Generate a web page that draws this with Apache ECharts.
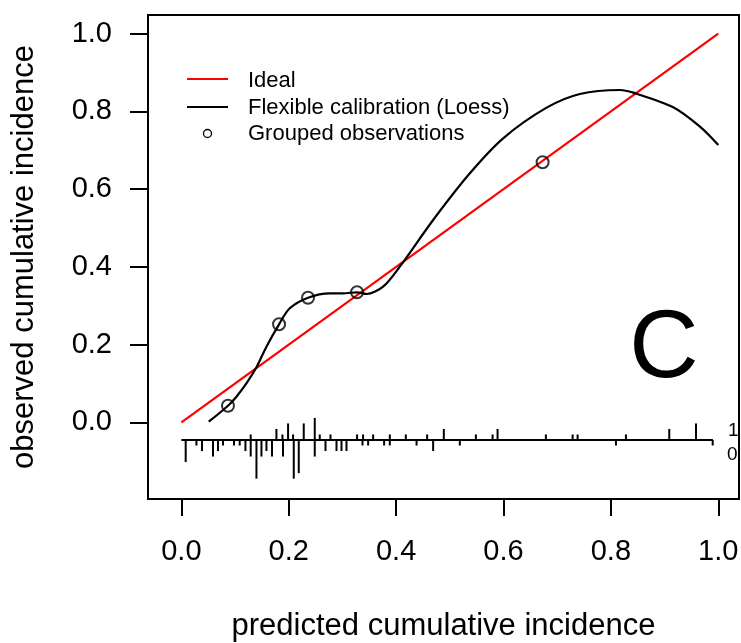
<!DOCTYPE html>
<html>
<head>
<meta charset="utf-8">
<script src="https://cdn.jsdelivr.net/npm/echarts@6/dist/echarts.min.js"></script>
<style>html,body{margin:0;padding:0;background:#fff}#c{width:741px;height:643px}</style>
</head>
<body>
<div id="c"></div>
<script>
// ---- data ----
var tickValues = [0, 0.2, 0.4, 0.6, 0.8, 1.0];
var idealX = [0, 1];
var idealY = [0, 1];
var loessX = [0.0509, 0.0868, 0.1025, 0.1211, 0.1398, 0.1584, 0.1819, 0.2018, 0.2359, 0.2764, 0.3012, 0.3272, 0.3448, 0.3757, 0.4068, 0.4689, 0.5373, 0.5993, 0.6802, 0.7423, 0.8168, 0.8416, 0.9161, 0.9659, 1.0];
var loessY = [0.0015, 0.0427, 0.0659, 0.0999, 0.1415, 0.1945, 0.2521, 0.2933, 0.3206, 0.3319, 0.3319, 0.3345, 0.3301, 0.3489, 0.4003, 0.5205, 0.6406, 0.7306, 0.8094, 0.8446, 0.8549, 0.8480, 0.8104, 0.7605, 0.7134];
var groupX = [0.0868, 0.1819, 0.2359, 0.3272, 0.6728];
var groupY = [0.0427, 0.2521, 0.3206, 0.3345, 0.6689];
// rug (histogram of predictions): events drawn upward, non-events downward
var eventX = [0.1291, 0.1770, 0.1882, 0.1987, 0.2080, 0.2279, 0.2484, 0.2577, 0.2777, 0.3272, 0.3384, 0.3571, 0.3882, 0.4180, 0.4577, 0.4888, 0.5485, 0.5796, 0.5889, 0.6789, 0.7287, 0.7380, 0.8280, 0.9087, 0.9585];
var eventN = [1, 2, 1, 3, 1, 3, 4, 1, 1, 1, 1, 1, 1, 1, 1, 2, 1, 1, 2, 1, 1, 1, 1, 2, 3];
var nonEventX = [0.0080, 0.0280, 0.0384, 0.0589, 0.0682, 0.0775, 0.0980, 0.1086, 0.1193, 0.1291, 0.1398, 0.1491, 0.1584, 0.1688, 0.1893, 0.2093, 0.2186, 0.2484, 0.2684, 0.2889, 0.2982, 0.3075, 0.3373, 0.3478, 0.3776, 0.3882, 0.4380, 0.4689, 0.5186, 0.8094, 0.9896];
var nonEventN = [4, 1, 2, 3, 2, 1, 1, 1, 2, 3, 7, 3, 2, 3, 3, 7, 6, 3, 2, 2, 2, 2, 1, 1, 1, 1, 1, 2, 1, 1, 1];
var rugBase = -0.0455;
var rugUnit = 0.0142;
var rugLineX = [0, 0.99];

// ---- build ----
var FONT = '"Liberation Sans", Arial, sans-serif';
function zip(a, b) { return a.map(function (v, i) { return [v, b[i]]; }); }
var rugData = eventX.map(function (x, i) { return [x, eventN[i], 1]; })
  .concat(nonEventX.map(function (x, i) { return [x, nonEventN[i], -1]; }));

var chart = echarts.init(document.getElementById('c'), null, { renderer: 'canvas' });
chart.setOption({
  animation: false,
  backgroundColor: '#fff',
  grid: { left: 148, right: 2, top: 15, bottom: 144, show: true, borderColor: '#000', borderWidth: 2, backgroundColor: 'transparent', outerBoundsMode: 'none', containLabel: false },
  xAxis: {
    type: 'value', min: -0.0622, max: 1.0386,
    name: 'predicted cumulative incidence', nameLocation: 'middle', nameGap: 112,
    nameTextStyle: { fontSize: 31, fontFamily: FONT, color: '#000' },
    axisLine: { show: true, onZero: false, lineStyle: { color: '#000', width: 2 } },
    axisTick: { show: true, inside: false, length: 17, customValues: tickValues, lineStyle: { color: '#000', width: 2 } },
    axisLabel: { customValues: tickValues, margin: 38, fontSize: 29, fontFamily: FONT, color: '#000', formatter: function (v) { return v.toFixed(1); } },
    splitLine: { show: false }
  },
  yAxis: {
    type: 'value', min: -0.1973, max: 1.0478,
    name: 'observed cumulative incidence', nameLocation: 'middle', nameGap: 108,
    nameTextStyle: { fontSize: 31, fontFamily: FONT, color: '#000' },
    axisLine: { show: true, onZero: false, lineStyle: { color: '#000', width: 2 } },
    axisTick: { show: true, inside: false, length: 18, customValues: tickValues, lineStyle: { color: '#000', width: 2 } },
    axisLabel: { customValues: tickValues, margin: 36, fontSize: 29, fontFamily: FONT, color: '#000', formatter: function (v) { return v.toFixed(1); } },
    splitLine: { show: false }
  },
  series: [
    { name: 'Ideal', type: 'line', data: zip(idealX, idealY), showSymbol: false, lineStyle: { color: '#ff0000', width: 2.2 }, z: 3 },
    { name: 'Flexible calibration (Loess)', type: 'line', data: zip(loessX, loessY), smooth: 0.3, showSymbol: false, lineStyle: { color: '#000', width: 2.2 }, z: 4 },
    { name: 'Grouped observations', type: 'scatter', data: zip(groupX, groupY), symbol: 'circle', symbolSize: 12,
      itemStyle: { color: 'rgba(0,0,0,0)', borderColor: '#000', borderWidth: 2 }, z: 5 },
    { name: 'rugLine', type: 'line', data: rugLineX.map(function (x) { return [x, rugBase]; }), showSymbol: false, lineStyle: { color: '#000', width: 2 }, z: 3 },
    { name: 'rug', type: 'custom', data: rugData, z: 3,
      renderItem: function (params, api) {
        var x = api.value(0), n = api.value(1), d = api.value(2);
        var p0 = api.coord([x, rugBase]);
        var p1 = api.coord([x, rugBase + d * n * rugUnit]);
        return { type: 'line', shape: { x1: p0[0], y1: p0[1], x2: p1[0], y2: p1[1] }, style: { stroke: '#000', lineWidth: 2 } };
      }
    }
  ],
  graphic: [
    { type: 'line', shape: { x1: 187, y1: 79, x2: 228, y2: 79 }, style: { stroke: '#ff0000', lineWidth: 2 } },
    { type: 'text', x: 248, y: 81, style: { text: 'Ideal', fontSize: 22, fontFamily: FONT, fill: '#000', verticalAlign: 'middle' } },
    { type: 'line', shape: { x1: 187, y1: 107, x2: 228, y2: 107 }, style: { stroke: '#000', lineWidth: 2 } },
    { type: 'text', x: 248, y: 107.5, style: { text: 'Flexible calibration (Loess)', fontSize: 22, fontFamily: FONT, fill: '#000', verticalAlign: 'middle' } },
    { type: 'circle', shape: { cx: 207.5, cy: 133.5, r: 4 }, style: { stroke: '#000', lineWidth: 1.3, fill: 'none' } },
    { type: 'text', x: 248, y: 133.5, style: { text: 'Grouped observations', fontSize: 22, fontFamily: FONT, fill: '#000', verticalAlign: 'middle' } },
    { type: 'text', x: 664, y: 351, style: { text: 'C', fontSize: 96, fontFamily: FONT, fill: '#000', align: 'center', verticalAlign: 'middle' } },
    { type: 'text', x: 728, y: 431, style: { text: '1', fontSize: 19, fontFamily: FONT, fill: '#000', verticalAlign: 'middle' } },
    { type: 'text', x: 727, y: 455, style: { text: '0', fontSize: 19, fontFamily: FONT, fill: '#000', verticalAlign: 'middle' } }
  ]
});
</script>
</body>
</html>
